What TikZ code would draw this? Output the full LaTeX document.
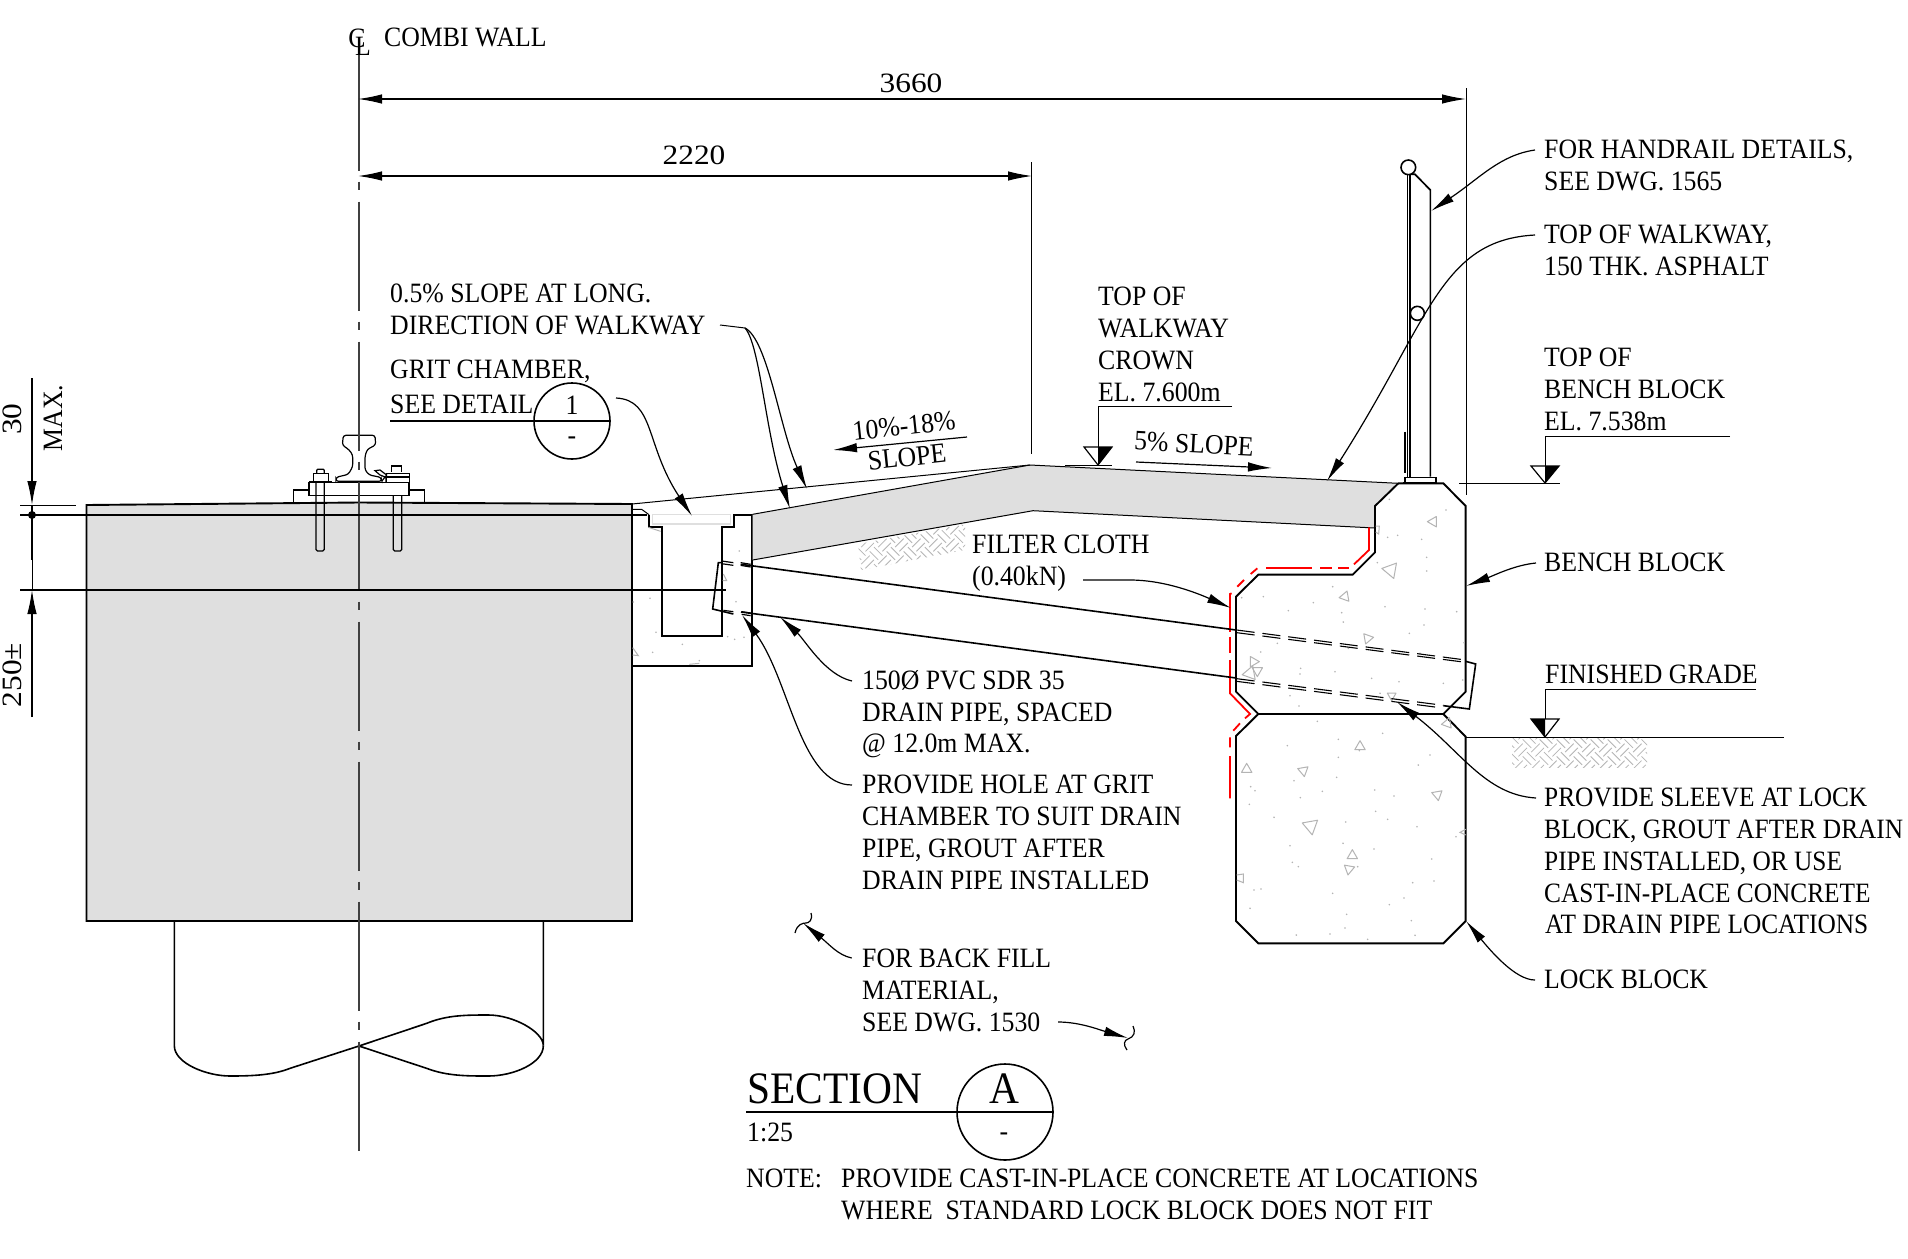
\documentclass[tikz,border=0pt]{standalone}
\usepackage{fontspec}
\setmainfont[FakeStretch=0.92]{Liberation Serif}
\newfontfamily\widedigits[FakeStretch=1.12]{Liberation Serif}
\newfontfamily\narrowtext[FakeStretch=0.905]{Liberation Serif}
\usetikzlibrary{arrows.meta}
\definecolor{asph}{HTML}{DFDFDF}
\definecolor{speck}{HTML}{B4B4B4}
\tikzset{
  thickl/.style={line width=1.9pt,line join=miter},
  thinl/.style={line width=1pt},
  hatchl/.style={line width=0.8pt,color=speck},
  lead/.style={line width=1.2pt,-{Latex[length=24pt,width=9.5pt]}},
  dimarr/.style={line width=1.2pt,{Latex[length=24pt,width=9.5pt]}-{Latex[length=24pt,width=9.5pt]}},
  txt/.style={inner sep=0pt,anchor=north west,align=left,font=\fontsize{28}{31.8}\selectfont},
  ctxt/.style={inner sep=0pt,anchor=center,font=\fontsize{28}{31.8}\selectfont},
  bigt/.style={inner sep=0pt,font=\fontsize{45}{50}\selectfont},
  zA/.style={shift={(280,420)},scale=0.33333},
  zB/.style={shift={(1200,440)},scale=0.33333},
  zC/.style={shift={(1200,700)},scale=0.33333},
  zD/.style={shift={(1360,140)},scale=0.33333},
  zE/.style={shift={(130,900)},scale=0.33333},
  dd/.style={line width=1.1pt,dash pattern=on 18pt off 8pt},
  redl/.style={line width=1.8pt,color=red},
}
% inside the 3x scopes: radius given in full-size pixels
\newcommand{\ctri}[4]{\draw[line width=1pt,color=speck,line join=round] (#1,#2)+(#4:3*#3)--+(#4+120:3*#3)--+(#4+240:3*#3)--cycle;}
\newcommand{\basket}[2]{%
 \begin{scope}[shift={(#1,#2)},rotate=45]
 \foreach \i in {-9,...,9}{\foreach \j in {-9,...,9}{%
   \pgfmathtruncatemacro{\p}{mod(abs(\i+\j),2)}%
   \ifnum\p=0
     \draw[hatchl] (\i*12,\j*12+3)--++(12,0) (\i*12,\j*12+9)--++(12,0);
   \else
     \draw[hatchl] (\i*12+3,\j*12)--++(0,12) (\i*12+9,\j*12)--++(0,12);
   \fi
 }}
 \end{scope}}
\begin{document}
\begin{tikzpicture}[x=1pt,y=-1pt]
\useasboundingbox (0,0) rectangle (1908,1258);
\fill[white] (0,0) rectangle (1908,1258);

% wall
\draw[thickl,fill=asph] (86.5,505) -- (359,502.5) -- (632,504) -- (632,921) -- (86.5,921) -- cycle;

% pile
\begin{scope}[zE]
\draw[line width=1.6pt] (133,65) -- (133,437) .. controls (133,490) and (230,528) .. (300,528)
   .. controls (370,528) and (430,525) .. (480,505) -- (687,438) -- (890,370)
   .. controls (950,345) and (1010,345) .. (1075,345) .. controls (1150,345) and (1240,395) .. (1240,437) -- (1240,65);
\draw[line width=1.6pt] (687,438) -- (890,505) .. controls (950,528) and (1010,528) .. (1075,528)
   .. controls (1150,528) and (1240,490) .. (1240,437);
\end{scope}

% grit chamber
\begin{scope}[zA]
\draw[draw=asph,line width=1.6pt] (1118,284) rectangle (1352,312);
\draw[thickl] (1107,284) -- (1107,320) -- (1145,320) -- (1145,647) -- (1325,647) -- (1325,320) -- (1362,320) -- (1362,284) -- (1417,284) -- (1417,737) -- (1055,737);
\draw[thinl] (1055,268) -- (1085,268) -- (1107,284);
\foreach \x/\y in {1378/393,1060/546,1110/535,1128/637,1368/545,1343/650,1364/658,1392/652,1207/673,1118/697,1258/722}
  \fill[speck] (\x,\y) circle (2.7);
\draw[line width=1pt,color=speck] (1058,683) -- (1075,707) -- (1058,705);
\draw[line width=1pt,color=speck] (1330,462) -- (1340,482) -- (1328,482);
\draw[line width=1pt,color=speck] (1105,322) -- (1142,334);
\draw[line width=1pt,color=speck] (1228,733) -- (1258,730);
\end{scope}

% asphalt
\fill[asph] (752.7,514.3) -- (1030,465) -- (1398,483.3) -- (1375,506) -- (1375,528) -- (1033,510.7) -- (752.7,560) -- cycle;
\draw[thinl] (752.7,514.3) -- (1030,465) -- (1398,483.3);
\draw[thinl] (632,504) -- (1030,465);
\draw[thinl] (752.7,560) -- (1033,510.7) -- (1375,528);

% hatching
\begin{scope}
\clip (858,544) -- (965,524) -- (965,550) -- (861,570) -- cycle;
\basket{910}{545}
\end{scope}
\begin{scope}
\clip (1512,738) rectangle (1647,767);
\basket{1580}{750}
\end{scope}

% blocks
\begin{scope}[zB]
\draw[thickl] (595,130) -- (730,130) -- (797,198) -- (797,755) -- (730,822) -- (175,822) -- (108,755) -- (108,470) -- (175,404) -- (458,404) -- (525,337) -- (525,198) -- cycle;
\foreach \x/\y in {568/178,738/210,563/292,593/286,665/298,680/352,680/393,532/368,398/440,190/470,125/473,340/488,265/512,425/518,430/546,555/500,675/507,770/515,672/555,628/580,792/608,232/610,182/636,660/640,302/685,300/702,405/695,515/715,597/725,730/730,788/720,270/767,297/798,445/625,540/760}
  \fill[speck] (\x,\y) circle (2.7);
\ctri{700}{245}{6}{60}
\ctri{572}{390}{9}{70}
\ctri{435}{470}{6}{50}
\ctri{503}{595}{6}{110}
\ctri{160}{665}{6}{120}
\ctri{150}{700}{8}{170}
\ctri{172}{692}{6}{90}
\ctri{575}{767}{5}{90}
\draw[line width=1pt,color=speck] (527,258) -- (538,258) -- (536,282) -- (527,276);
% filter cloth
\draw[redl] (507,262) -- (507,330) -- (462,373);
\draw[redl] (447,385) -- (415,385) (395,385) -- (360,385) (335,385) -- (198,385);
\draw[redl] (172,385) -- (152,402) (132,420) -- (112,440);
\draw[redl] (90,505) -- (90,462) -- (95,460);
\draw[redl] (90,505) -- (90,575) (90,590) -- (90,640);
\draw[redl] (90,660) -- (90,760) -- (150,822) -- (135,835);
\draw[redl] (120,850) -- (100,872) (90,892) -- (90,922) (90,948) -- (90,1075);
\end{scope}
\begin{scope}[zC]
\draw[thickl] (175,42) -- (730,42) -- (797,110) -- (797,663) -- (730,730) -- (175,730) -- (108,663) -- (108,108) -- cycle;
\foreach \x/\y in {352/64,548/100,415/118,262/137,415/172,690/165,655/195,410/232,282/242,152/260,165/272,367/274,524/270,582/288,301/293,148/313,527/334,563/358,222/352,437/366,651/380,768/410,429/430,270/437,522/447,277/487,295/500,473/500,695/477,162/570,183/567,398/580,638/548,702/543,612/594,568/614,150/625,440/643,634/662,435/684,390/702,289/705,645/706,503/718,478/152}
  \fill[speck] (\x,\y) circle (2.7);
\ctri{742}{70}{6}{170}
\ctri{480}{140}{6}{150}
\ctri{140}{208}{6}{150}
\ctri{310}{212}{6}{80}
\ctri{712}{284}{6}{80}
\ctri{332}{378}{9}{80}
\ctri{457}{467}{6}{150}
\ctri{447}{507}{6}{100}
\draw[line width=1pt,color=speck] (110,525) -- (130,522) -- (130,548) -- (110,540);
\draw[line width=1pt,color=speck] (797,388) -- (780,397) -- (797,405);
\end{scope}
% finished grade start
\draw[thinl] (1466,737) -- (1784,737);

% pipe
\begin{scope}[zB]
\draw[dd] (110,570) -- (797,660);
\draw[dd] (110,578) -- (797,667);
\draw[dd] (110,716) -- (730,796);
\draw[dd] (110,724) -- (720,803);
\draw[line width=1.6pt] (797,664) -- (827,672) -- (808,807) -- (730,797);
\end{scope}
\draw[line width=1.6pt] (740.7,564.3) -- (1236,630);
\draw[line width=1.6pt] (741,612) -- (1236,678);
\begin{scope}[zA]
\draw[line width=1.2pt] (1325,423) -- (1360,428) (1325,431) -- (1360,436);
\draw[line width=1.6pt] (1325,428) -- (1315,428) -- (1298,567) -- (1360,582);
\draw[line width=1.2pt] (1330,571) -- (1360,575);
\draw[line width=1.2pt] (1382,428) -- (1412,433) (1382,436) -- (1412,441);
\draw[line width=1.2pt] (1385,575) -- (1412,579) (1385,583) -- (1412,587);
\end{scope}

% rail and fastening
\begin{scope}[zA]
\draw[line width=1.2pt,rounded corners=2.5pt] (190,46) -- (285,46) -- (287,75) -- (262,88) -- (255,108) -- (255,150) -- (268,165) -- (303,172) -- (305,184) -- (168,184) -- (168,172) -- (205,163) -- (218,140) -- (218,105) -- (208,90) -- (187,75) -- cycle;
\draw[line width=1.2pt] (87,188) rectangle (387,226);
\draw[line width=1.2pt] (40,248) -- (40,210) -- (87,210) (387,210) -- (433,210) -- (433,248);
\draw[line width=1.2pt] (87,184) -- (155,184) -- (155,189);
\draw[line width=1.2pt,rounded corners=1.5pt] (108,188) -- (108,393) -- (133,393) -- (133,188);
\draw[line width=1.2pt,rounded corners=1.5pt] (340,226) -- (340,393) -- (365,393) -- (365,226);
\draw[line width=1.2pt] (100,184) -- (100,160) -- (145,160) -- (145,184);
\draw[line width=1.2pt,rounded corners=1pt] (110,160) -- (110,148) -- (133,148) -- (133,160);
\draw[line width=1.6pt] (335,155) -- (335,138) -- (365,138) -- (365,155);
\draw[line width=1.6pt] (320,160) rectangle (388,187);
\draw[line width=2pt] (322,172) -- (388,172);
\draw[line width=1.2pt] (305,184) -- (320,165) -- (300,150) -- (285,152) -- (300,165) -- (318,172) -- (318,187);
\end{scope}

% centre line
\draw[line width=1.4pt,color=black!75] (359,55) -- (359,62);
\draw[line width=1.4pt,color=black!75,dash pattern=on 109pt off 11pt on 8pt off 12pt] (359,61.7) -- (359,1153);

% horizontal reference lines
\draw[thinl] (20,505) -- (76,505);
\draw[line width=1.3pt] (20,515) -- (647,515);
\draw[line width=1.2pt] (20,590) -- (726,590);

% post
\begin{scope}[zD]
\draw[line width=1.7pt] (142,100) -- (142,1010);
\draw[line width=1.1pt] (150,103) -- (150,1010);
\draw[line width=1.7pt] (211,1010) -- (211,150) -- (165,103) -- (150,103);
\draw[line width=1.6pt,fill=white] (145,82) circle (22);
\draw[line width=1.6pt,fill=white] (172,520) circle (21);
\draw[line width=1.6pt] (135,875) -- (135,1000);
\draw[line width=1.2pt] (135,1028) -- (135,1012) -- (228,1012) -- (228,1028);
\draw[line width=1.9pt] (130,1030) -- (232,1030);
\draw[thinl] (298,1030) -- (600,1030);
\end{scope}

% dimensions
\coordinate (cl1) at (358,99);
\coordinate (cl2) at (358,176);
\coordinate (e1) at (1466,99);
\coordinate (e2) at (1032,176);
\draw[thinl] (1466,88) -- (1466,495);
\draw[thinl] (1031,162) -- (1031,454);
\draw[dimarr] (cl1) -- (e1);
\draw[dimarr] (cl2) -- (e2);
\node[ctxt,font=\fontsize{28}{31.8}\widedigits] (d3660) at (911,83) {3660};
\node[ctxt,font=\fontsize{28}{31.8}\widedigits] (d2220) at (694,155) {2220};

\coordinate (lt1) at (32,505);
\coordinate (lt2) at (32,590);
\draw[line width=1.2pt,-{Latex[length=24pt,width=9.5pt]}] (32,378) -- (lt1);
\draw[line width=1.2pt,-{Latex[length=24pt,width=9.5pt]}] (32,717) -- (lt2);
\draw[line width=1.7pt] (32,505) -- (32,560);
\draw[thinl] (32,560) -- (32,590);
\fill (32,515) circle (4pt);
\node[ctxt,rotate=90,font=\fontsize{28}{31.8}\widedigits] (t30) at (12,419) {30};
\node[ctxt,rotate=90] (tmax) at (53,418) {MAX.};
\node[ctxt,rotate=90,font=\fontsize{28}{31.8}\widedigits] (t250) at (12,675) {250±};

% CL and title
\node[ctxt] (tC) at (357,38) {C};
\node[ctxt] (tL) at (363,46) {L};
\node[txt] (tCombi) at (384,28) {COMBI WALL};

% elevation markers
\draw[thinl] (1232,406) -- (1098,406) -- (1098,465);
\draw[line width=1.2pt,fill=white] (1084,447) -- (1112,447) -- (1098,465) -- cycle;
\fill (1098,447) -- (1112,447) -- (1098,465) -- cycle;
\draw[thinl] (1065,465) -- (1112,465);
\draw[thinl] (1730,436) -- (1545,436) -- (1545,483);
\draw[line width=1.2pt,fill=white] (1531,466) -- (1559,466) -- (1545,483) -- cycle;
\fill (1545,466) -- (1559,466) -- (1545,483) -- cycle;
\draw[thinl] (1756,689) -- (1545,689) -- (1545,737);
\draw[line width=1.2pt,fill=white] (1531,719) -- (1559,719) -- (1545,737) -- cycle;
\fill (1545,719) -- (1531,719) -- (1545,737) -- cycle;

% slope arrows
\coordinate (s5a) at (1136,462);
\coordinate (s5b) at (1272,468);
\draw[lead] (s5a) -- (s5b);
\coordinate (s10a) at (967,437);
\coordinate (s10b) at (833,450);
\draw[lead] (s10a) -- (s10b);
\node[ctxt,rotate=-3] (t5) at (1194,444) {5\% SLOPE};
\node[ctxt,rotate=6] (t10a) at (904,426) {10\%-18\%};
\node[ctxt,rotate=6] (t10b) at (907,457) {SLOPE};

% annotation text
\node[txt] (tHand) at (1544,140) {FOR HANDRAIL DETAILS,\\SEE DWG. 1565};
\node[txt] (tTop) at (1544,225) {TOP OF WALKWAY,\\150 THK. ASPHALT};
\node[txt] (tBench) at (1544,348) {TOP OF\\BENCH BLOCK\\EL. 7.538m};
\node[txt] (tCrown) at (1098,287) {TOP OF\\WALKWAY\\CROWN\\EL. 7.600m};
\node[txt] (tLong) at (390,284) {0.5\% SLOPE AT LONG.\\DIRECTION OF WALKWAY};
\node[txt] (tGrit) at (390,360) {GRIT CHAMBER,};
\node[txt] (tSee) at (390,395) {SEE DETAIL};
\node[txt] (tFilter) at (972,535) {FILTER CLOTH\\(0.40kN)};
\node[txt] (tPvc) at (862,670) {150Ø PVC SDR 35\\DRAIN PIPE, SPACED\\@ 12.0m MAX.};
\node[txt] (tHole) at (862,775) {PROVIDE HOLE AT GRIT\\CHAMBER TO SUIT DRAIN\\PIPE, GROUT AFTER\\DRAIN PIPE INSTALLED};
\node[txt] (tFill) at (862,949) {FOR BACK FILL\\MATERIAL,\\SEE DWG. 1530};
\node[txt] (tBB) at (1544,553) {BENCH BLOCK};
\node[txt] (tFin) at (1545,665) {FINISHED GRADE};
\node[txt,font=\fontsize{28}{31.8}\narrowtext] (tSleeve) at (1544,788) {PROVIDE SLEEVE AT LOCK\\BLOCK, GROUT AFTER DRAIN\\PIPE INSTALLED, OR USE\\CAST-IN-PLACE CONCRETE\\\hspace{1pt}AT DRAIN PIPE LOCATIONS};
\node[txt] (tLB) at (1544,970) {LOCK BLOCK};

% detail bubble
\draw[line width=1.9pt] (390,421) -- (610,421);
\draw[line width=1.6pt] (572,421) circle (38pt);
\node[ctxt] (b1) at (572,405) {1};
\node[ctxt] (b2) at (572,441) {-};

% leaders
\coordinate (aHand) at (1431,211);
\coordinate (sHand) at (1535,150);
\draw[lead] (sHand) .. controls (1500,155) and (1480,178) .. (aHand);
\coordinate (aTop) at (1327,481);
\coordinate (sTop) at (1535,235);
\draw[lead] (sTop) .. controls (1440,240) and (1430,320) .. (aTop);
\coordinate (aBB) at (1466,586);
\coordinate (sBB) at (1536,563);
\draw[lead] (sBB) .. controls (1515,565) and (1495,575) .. (aBB);
\coordinate (aSl) at (1397,702);
\coordinate (sSl) at (1536,798);
\draw[lead] (sSl) .. controls (1485,795) and (1460,750) .. (aSl);
\coordinate (aLB) at (1466,921);
\coordinate (sLB) at (1535,980);
\draw[lead] (sLB) .. controls (1515,980) and (1490,950) .. (aLB);
\coordinate (sL) at (720,325);
\coordinate (mL) at (745,328);
\coordinate (aL1) at (807,489);
\coordinate (aL2) at (790,509);
\draw[thinl] (sL) -- (mL);
\draw[lead] (mL) .. controls (768,340) and (780,430) .. (aL1);
\draw[lead] (mL) .. controls (760,345) and (765,430) .. (aL2);
\coordinate (sG) at (616,398);
\coordinate (aG) at (692,516);
\draw[lead] (sG) .. controls (655,400) and (645,445) .. (aG);
\coordinate (sF) at (1083,580);
\coordinate (aF) at (1231,608);
\draw[lead] (sF) -- (1130,580) .. controls (1160,580) and (1190,590) .. (aF);
\coordinate (sP) at (852,681);
\coordinate (aP) at (780,617);
\draw[lead] (sP) .. controls (825,675) and (805,640) .. (aP);
\coordinate (sH) at (852,785);
\coordinate (aH) at (742,615);
\draw[lead] (sH) .. controls (800,785) and (790,680) .. (aH);
\coordinate (sB1) at (851.7,958);
\coordinate (aB1) at (803,923);
\draw[lead] (sB1) .. controls (838,955) and (830,945) .. (aB1);
\draw[line width=1.2pt] (795,933) .. controls (797,924) and (803,923) .. (806,923) .. controls (809,923) and (813,920) .. (811,913);
\coordinate (sB2) at (1058,1022);
\coordinate (aB2) at (1128,1038);
\draw[lead] (sB2) .. controls (1080,1022) and (1100,1030) .. (aB2);
\draw[line width=1.2pt] (1133,1026) .. controls (1136,1032) and (1134,1037) .. (1128,1039) .. controls (1124,1040) and (1123,1045) .. (1127,1050);

% section title
\node[bigt,anchor=north west] (tSec) at (747,1073) {SECTION};
\draw[line width=1.9pt] (746,1112) -- (1053,1112);
\draw[line width=1.6pt] (1005,1112) circle (48pt);
\node[bigt] (tA) at (1004,1089) {A};
\node[ctxt] (tDash) at (1004,1137) {-};
\node[txt] (tScale) at (747,1123) {1:25};
\node[txt] (tNote) at (746,1169) {NOTE:};
\node[txt] (tNote2) at (841,1169) {PROVIDE CAST-IN-PLACE CONCRETE AT LOCATIONS\\WHERE\ \ STANDARD LOCK BLOCK DOES NOT FIT};
\end{tikzpicture}
\end{document}
